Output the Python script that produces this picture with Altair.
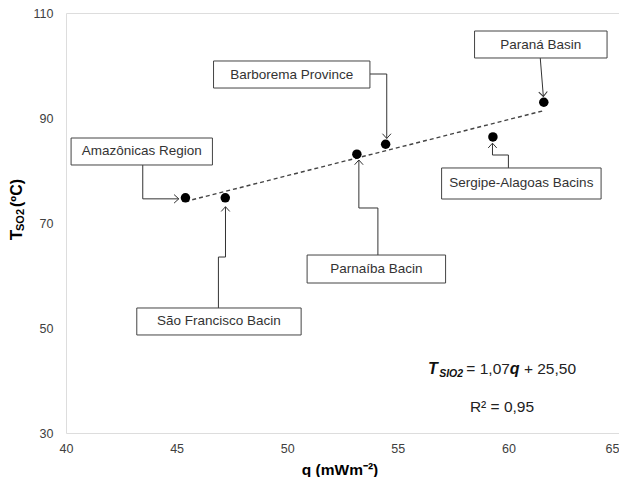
import altair as alt
import pandas as pd

# ---- data ----
names = ["Amazônicas Region", "São Francisco Bacin", "Parnaíba Bacin",
         "Barborema Province", "Sergipe-Alagoas Bacins", "Paraná Basin"]
q_vals = [45.4, 47.2, 53.15, 54.45, 59.3, 61.6]
t_vals = [74.8, 74.8, 83.1, 85.0, 86.4, 93.0]

trend_q = [45.4, 61.6]
trend_t = [74.1, 91.4]

# annotation boxes (data units): x0, x1, y0, y1
box_x0 = [40.23, 43.2, 50.9, 46.67, 56.98, 58.47]
box_x1 = [46.62, 50.63, 57.16, 53.74, 64.19, 64.46]
box_y0 = [81.05, 48.67, 58.57, 95.71, 74.57, 101.43]
box_y1 = [86.19, 53.81, 63.9, 100.86, 80.48, 106.57]

# connector paths (data units)
conn_x = [[43.47, 43.47, 45.1],
          [46.89, 46.89, 47.21, 47.21],
          [54.1, 54.1, 53.24, 53.24],
          [53.74, 54.5, 54.5],
          [60.0, 60.0, 59.28, 59.28],
          [61.44, 61.58]]
conn_y = [[81.05, 74.6, 74.6],
          [53.81, 63.52, 63.52, 73.1],
          [63.9, 72.86, 72.86, 82.0],
          [98.38, 98.38, 86.1],
          [80.48, 82.95, 82.95, 85.2],
          [101.43, 94.1]]
arrow_angle = [0, 270, 270, 90, 270, 86]

x_ticks = [40, 45, 50, 55, 60, 65]
y_ticks = [30, 50, 70, 90, 110]

FONT = "Liberation Sans"
TXT = "#333333"

pts = pd.DataFrame({"name": names, "q": q_vals, "t": t_vals})
trend = pd.DataFrame({"q": trend_q, "t": trend_t})
boxes = pd.DataFrame({"name": names, "x0": box_x0, "x1": box_x1, "y0": box_y0, "y1": box_y1})
boxes["xc"] = (boxes.x0 + boxes.x1) / 2
boxes["yc"] = (boxes.y0 + boxes.y1) / 2

rows = []
arrows = []
for i, (xs_, ys_) in enumerate(zip(conn_x, conn_y)):
    for j, (a, b) in enumerate(zip(xs_, ys_)):
        rows.append({"id": i, "o": j, "x": a, "y": b})
    arrows.append({"x": xs_[-1], "y": ys_[-1], "ang": arrow_angle[i]})
conn = pd.DataFrame(rows)
arr = pd.DataFrame(arrows)

xs = alt.Scale(domain=[40, 65], nice=False, zero=False)
ys = alt.Scale(domain=[30, 110], nice=False, zero=False)

X = alt.X("q:Q", scale=xs, axis=alt.Axis(values=x_ticks, title=None, grid=False, ticks=False,
                                         tickSize=0, domain=False, labelFont=FONT, labelFontSize=12.5,
                                         labelColor="#404040", labelPadding=9, labelFlush=False,
                                         labelAlign=alt.expr("datum.value == 65 ? 'right' : 'center'")))
Y = alt.Y("t:Q", scale=ys, axis=alt.Axis(values=y_ticks, title=None, grid=False, ticks=False,
                                         tickSize=0, domain=False, labelFont=FONT, labelFontSize=12.5,
                                         labelColor="#404040", labelPadding=13, labelFlush=False))

base_axes = alt.Chart(pts).mark_point(opacity=0).encode(x=X, y=Y)

trend_line = alt.Chart(trend).mark_line(color="#444444", strokeDash=[4, 3], strokeWidth=1.4).encode(
    x=alt.X("q:Q", scale=xs), y=alt.Y("t:Q", scale=ys))

conn_lines = alt.Chart(conn).mark_line(color="#333333", strokeWidth=1).encode(
    x=alt.X("x:Q", scale=xs), y=alt.Y("y:Q", scale=ys), detail="id:N", order="o:O")

heads = alt.Chart(arr).mark_point(shape="M-1,-0.9L0,0L-1,0.9", filled=False, color="#333333",
                                  strokeWidth=1, size=90, opacity=1).encode(
    x=alt.X("x:Q", scale=xs), y=alt.Y("y:Q", scale=ys), angle=alt.Angle("ang:Q", scale=None))

box_rects = alt.Chart(boxes).mark_rect(fill="white", stroke="#444444", strokeWidth=1).encode(
    x=alt.X("x0:Q", scale=xs), x2="x1:Q", y=alt.Y("y0:Q", scale=ys), y2="y1:Q")

box_text = alt.Chart(boxes).mark_text(font=FONT, fontSize=13.5, color=TXT).encode(
    x=alt.X("xc:Q", scale=xs), y=alt.Y("yc:Q", scale=ys), text="name:N")

dots = alt.Chart(pts).mark_circle(color="black", size=90, opacity=1).encode(
    x=alt.X("q:Q", scale=xs), y=alt.Y("t:Q", scale=ys))

# equation pieces
eq = pd.DataFrame([
    {"x": 56.37, "y": 42.2, "s": "T", "k": "bi", "fs": 16},
    {"x": 56.87, "y": 41.3, "s": "SIO2", "k": "bi", "fs": 10.5},
    {"x": 58.1, "y": 42.2, "s": "= 1,07", "k": "n", "fs": 15.5},
    {"x": 60.06, "y": 42.2, "s": "q", "k": "bi", "fs": 16},
    {"x": 60.7, "y": 42.2, "s": "+ 25,50", "k": "n", "fs": 15.5},
])
eq_bi = alt.Chart(eq[eq.k == "bi"]).mark_text(font=FONT, fontWeight="bold", fontStyle="italic",
                                              align="left", baseline="middle", color="#111111").encode(
    x=alt.X("x:Q", scale=xs), y=alt.Y("y:Q", scale=ys), text="s:N", size=alt.Size("fs:Q", scale=None))
eq_n = alt.Chart(eq[eq.k == "n"]).mark_text(font=FONT, align="left", baseline="middle", color="#222222").encode(
    x=alt.X("x:Q", scale=xs), y=alt.Y("y:Q", scale=ys), text="s:N", size=alt.Size("fs:Q", scale=None))
r2 = alt.Chart(pd.DataFrame({"x": [59.71], "y": [35.0], "s": ["R² = 0,95"]})).mark_text(
    font=FONT, fontSize=15.5, color="#222222").encode(
    x=alt.X("x:Q", scale=xs), y=alt.Y("y:Q", scale=ys), text="s:N")

# axis titles (pixel positions relative to plot area)
xt = alt.Chart(pd.DataFrame({"s": ["q (mWm⁻²)"]})).mark_text(
    font=FONT, fontSize=15.5, fontWeight="bold", color="black").encode(
    x=alt.value(274), y=alt.value(457), text="s:N")
yt = alt.Chart(pd.DataFrame({"s": ["T", "SO2", "(ºC)"], "px": [-49, -45, -49], "py": [222, 207, 180],
                             "fs": [17, 11, 16]})).mark_text(
    font=FONT, fontWeight="bold", color="black", angle=270, baseline="middle").encode(
    x=alt.X("px:Q", scale=None), y=alt.Y("py:Q", scale=None), text="s:N", size=alt.Size("fs:Q", scale=None))

chart = alt.layer(base_axes, trend_line, conn_lines, heads, box_rects, box_text, dots,
                  eq_bi, eq_n, r2, xt, yt).properties(
    width=553, height=420,
    autosize=alt.AutoSizeParams(type="none"),
    padding={"left": 58, "top": 5, "right": 0, "bottom": 44},
).configure_view(stroke="black", strokeWidth=2).configure(background="white")

chart.save("out.html", embed_options={"renderer": "svg", "actions": False})
